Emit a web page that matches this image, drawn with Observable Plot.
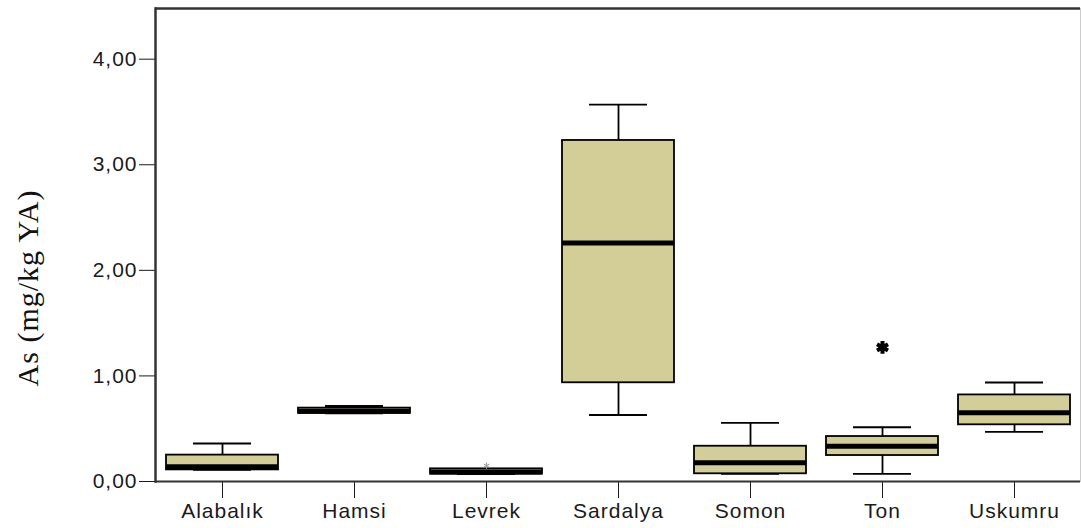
<!DOCTYPE html>
<html>
<head>
<meta charset="utf-8">
<script src="https://cdn.jsdelivr.net/npm/d3@7"></script>
<script src="https://cdn.jsdelivr.net/npm/@observablehq/plot@0.6"></script>
<style>
  html, body { margin: 0; padding: 0; background: #fff; }
  #chart svg text { letter-spacing: 1px; }
</style>
</head>
<body>
<div id="chart"></div>
<script>
const species = ["Alabalık", "Hamsi", "Levrek", "Sardalya", "Somon", "Ton", "Uskumru"];
const lowerWhisker = [0.11, 0.645, 0.07, 0.63, 0.073, 0.073, 0.47];
const q1 = [0.11, 0.645, 0.07, 0.935, 0.073, 0.246, 0.537];
const median = [0.14, 0.665, 0.09, 2.26, 0.177, 0.334, 0.65];
const q3 = [0.25, 0.695, 0.12, 3.23, 0.334, 0.426, 0.82];
const upperWhisker = [0.36, 0.715, 0.12, 3.57, 0.555, 0.514, 0.9375];
const outlierSpecies = ["Ton", "Levrek"];
const outlierValue = [1.27, 0.15];
const yTicks = [0, 1, 2, 3, 4];
const yLabel = "As (mg/kg YA)";
const yMax = 4.48;

const boxes = species.map((s, i) => ({
  species: s, lo: lowerWhisker[i], q1: q1[i], med: median[i], q3: q3[i], hi: upperWhisker[i]
}));
const outliers = outlierSpecies.map((s, i) => ({species: s, value: outlierValue[i]}));

const fmt = d => d.toFixed(2).replace(".", ",");

const chart = Plot.plot({
  width: 1081,
  height: 528,
  marginLeft: 155,
  marginRight: 1,
  marginTop: 8,
  marginBottom: 47,
  style: {fontFamily: "'Liberation Sans', Arial, sans-serif", fontSize: "21px", color: "#1a1a1a", background: "#fff"},
  x: {domain: species, padding: 0, label: null, tickSize: 17, tickPadding: 5},
  y: {domain: [0, yMax], ticks: yTicks, tickFormat: fmt, label: null, tickSize: 16, tickPadding: 2},
  marks: [
    Plot.frame({stroke: "#ccc", strokeWidth: 1}),
    Plot.frame({anchor: "left", stroke: "#333", strokeWidth: 2.5}),
    Plot.ruleY([yMax], {stroke: "#333", strokeWidth: 2.5}),
    Plot.ruleY([0], {stroke: "#333", strokeWidth: 2}),
    Plot.ruleX(boxes, {x: "species", y1: "q3", y2: "hi", stroke: "#000", strokeWidth: 1.8}),
    Plot.ruleX(boxes, {x: "species", y1: "lo", y2: "q1", stroke: "#000", strokeWidth: 1.8}),
    Plot.tickY(boxes, {x: "species", y: "hi", stroke: "#000", strokeWidth: 1.8, insetLeft: 37, insetRight: 37}),
    Plot.tickY(boxes, {x: "species", y: "lo", stroke: "#000", strokeWidth: 1.8, insetLeft: 37, insetRight: 37}),
    Plot.barY(boxes, {x: "species", y1: "q1", y2: "q3", fill: "#d3ce97", stroke: "#000", strokeWidth: 1.8, insetLeft: 10, insetRight: 10}),
    Plot.tickY(boxes, {x: "species", y: "med", stroke: "#000", strokeWidth: 5, insetLeft: 10, insetRight: 10}),
    Plot.dot(outliers.filter(d => d.species === "Ton"), {x: "species", y: "value", symbol: "asterisk", r: 6, stroke: "#000", strokeWidth: 4}),
    Plot.dot(outliers.filter(d => d.species === "Levrek"), {x: "species", y: "value", symbol: "asterisk", r: 3, stroke: "#999", strokeWidth: 1}),
    Plot.text([yLabel], {text: d => d, frameAnchor: "left", dx: -127, dy: 43, rotate: -90, textAnchor: "middle",
      fontFamily: "'Liberation Serif', 'Times New Roman', serif", fontSize: 30, fill: "#111"})
  ]
});
document.getElementById("chart").appendChild(chart);
</script>
</body>
</html>
